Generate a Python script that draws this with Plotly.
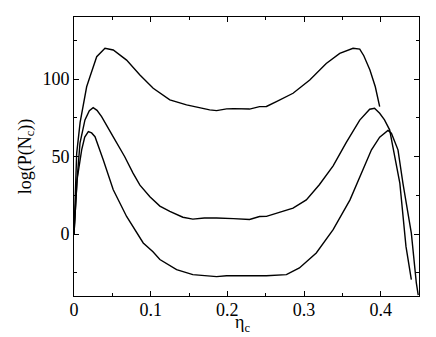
import plotly.graph_objects as go

# upper curve
x_top = [0.0, 0.0035, 0.008, 0.012, 0.0165, 0.0208, 0.0296, 0.0404, 0.0512, 0.0686, 0.086,
         0.1033, 0.125, 0.1468, 0.164, 0.177, 0.186, 0.199, 0.208, 0.221, 0.229, 0.242, 0.251,
         0.264, 0.2857, 0.3075, 0.329, 0.3466, 0.355, 0.364, 0.3727, 0.378, 0.386, 0.393, 0.3987]
y_top = [0.0, 52, 72, 84, 95, 101.5, 114.4, 119.8, 118.7, 112.2, 102.6,
         94, 86.5, 83.3, 81.3, 80.1, 79.6, 80.7, 80.9, 80.7, 80.6, 82.2, 82.3,
         85.4, 90.8, 99.4, 110, 116.5, 118.3, 119.8, 119.3, 115, 105.8, 95, 82.2]

# middle curve
x_mid = [0.0, 0.004, 0.0078, 0.0143, 0.02, 0.025, 0.03, 0.036, 0.051, 0.066, 0.077, 0.086,
         0.099, 0.112, 0.125, 0.142, 0.155, 0.17, 0.186, 0.199, 0.208, 0.229, 0.242, 0.251,
         0.264, 0.2857, 0.303, 0.32, 0.338, 0.355, 0.3727, 0.3857, 0.392, 0.3987, 0.405,
         0.4117, 0.416, 0.425, 0.433, 0.44]
y_mid = [0.0, 35, 58.6, 73.6, 79.5, 81.5, 79.8, 75.7, 62.8, 50, 39.3, 31.5,
         24, 18, 14.6, 10.8, 9.6, 10.3, 10.3, 10.3, 9.9, 9.4, 11.3, 11.4,
         13.5, 16.7, 22, 31.8, 44, 59, 73.5, 80.5, 81.1, 77.9, 73.6,
         67.2, 56, 32.8, -8, -29.4]

# lower curve
x_low = [0.0, 0.004, 0.01, 0.014, 0.0187, 0.023, 0.0274, 0.0339, 0.038, 0.0512, 0.0686,
         0.0903, 0.103, 0.112, 0.1338, 0.155, 0.177, 0.186, 0.199, 0.208, 0.2336, 0.251,
         0.277, 0.294, 0.316, 0.338, 0.36, 0.377, 0.388, 0.3987, 0.4095, 0.414, 0.4226,
         0.429, 0.44, 0.4465, 0.449]
y_low = [0.0, 35, 54.3, 62.5, 66, 65.2, 62.8, 54.3, 48, 28.5, 11.3,
         -5.8, -11.5, -16.5, -23, -26.2, -26.9, -27.5, -26.9, -26.9, -27.3, -26.9,
         -26.2, -21.9, -12.2, 2.8, 22, 41.4, 54.3, 62.5, 66.8, 65, 54.3,
         32.8, 0.6, -31.5, -39.5]

x_ticks = [0, 0.1, 0.2, 0.3, 0.4]
y_ticks = [0, 50, 100]

fig = go.Figure()
for xs, ys in [(x_top, y_top), (x_mid, y_mid), (x_low, y_low)]:
    fig.add_trace(go.Scatter(x=xs, y=ys, mode="lines", line=dict(color="black", width=1.4),
                             showlegend=False))

font = dict(family="Liberation Serif", size=18, color="black")
axis_common = dict(showline=True, linecolor="black", linewidth=1, mirror="ticks",
                   ticks="inside", ticklen=5, tickcolor="black", showgrid=False,
                   zeroline=False, tickfont=font, automargin=False)

fig.update_xaxes(range=[0, 0.45], tickvals=x_ticks, ticktext=["0", "0.1", "0.2", "0.3", "0.4"],
                 minor=dict(ticks="inside", ticklen=3, dtick=0.05, tick0=0, tickcolor="black"),
                 ticklabelstandoff=-3, **axis_common)
fig.update_yaxes(range=[-40, 140], tickvals=y_ticks,
                 minor=dict(ticks="inside", ticklen=3, dtick=25, tick0=0, tickcolor="black"),
                 title=dict(text="log(P(N<sub>c</sub>))", font=font, standoff=6), **axis_common)

# x title placed as annotation so the subscript is not clipped
fig.add_annotation(text="η<sub>c</sub>", xref="paper", yref="paper", x=0.487, y=-0.097,
                   xanchor="center", yanchor="middle", showarrow=False, font=font)

# the page body adds an 8px offset, so the figure is 8px smaller
fig.update_layout(width=428, height=329, margin=dict(l=66, r=17, t=9, b=41),
                  plot_bgcolor="white", paper_bgcolor="white")

fig.write_html("out.html")
